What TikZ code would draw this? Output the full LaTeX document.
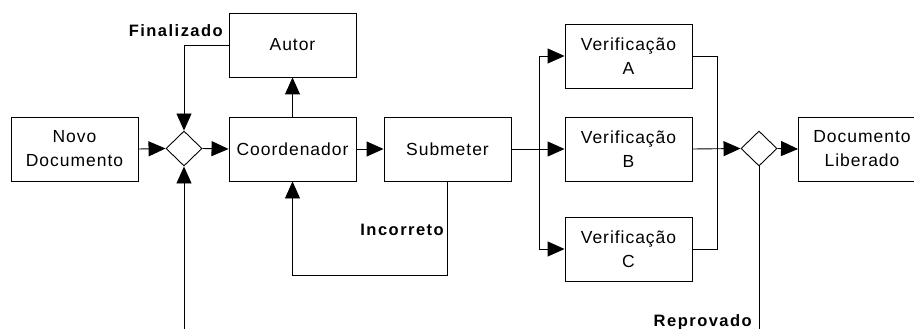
\documentclass[tikz,border=0pt]{standalone}
\usepackage{fontspec}
\setmainfont{Liberation Sans}
\usetikzlibrary{shapes.geometric,arrows.meta}
\newfontfamily\boxfont[LetterSpace=5.5]{Liberation Sans}
\newfontfamily\tagfont[LetterSpace=9]{Liberation Sans}
\tikzset{
  box/.style={draw,line width=0.9pt,minimum width=127pt,minimum height=64pt,inner sep=0pt,
    align=center,font=\boxfont\fontsize{17.5}{24}\selectfont},
  gate/.style={draw,shape=diamond,line width=0.9pt,minimum width=36pt,minimum height=35pt,inner sep=0pt},
  flow/.style={line width=0.9pt},
  arr/.style={flow,-{Triangle[length=17pt,width=15pt]}},
  tag/.style={font=\tagfont\fontsize{16.5}{18}\bfseries\selectfont,inner sep=0pt}}
\begin{document}
\begin{tikzpicture}[x=1pt,y=1pt]
\useasboundingbox (0,-329) rectangle (914,0);

% process steps
\node[box] (novo)  at (74.5,-149)  {Novo\\Documento};
\node[gate] (g1)   at (184,-148.5) {};
\node[box] (autor) at (292.5,-45)  {Autor};
\node[box] (coord) at (292.5,-149) {Coordenador};
\node[box] (sub)   at (447.5,-149) {Submeter};
\node[box] (va)    at (628.5,-56)  {Verificação\\A};
\node[box] (vb)    at (628.5,-149) {Verificação\\B};
\node[box] (vc)    at (628.5,-249) {Verificação\\C};
\node[gate] (g2)   at (759,-148.5) {};
\node[box] (lib)   at (862,-149)   {Documento\\Liberado};

% free ends of the loop lines
\coordinate (bot1) at (184,-329);
\coordinate (bot2) at (759,-329);
\coordinate (split) at (539,-149);
\coordinate (join) at (717,-149);

% main flow
\draw[arr] (novo.east) -- (g1.west);
\draw[arr] (g1.east) -- (coord.west);
\draw[arr] (coord.north) -- (autor.south);
\draw[arr] (coord.east) -- (sub.west);
\draw[arr] (autor.west) -| (g1.north);
\draw[arr] (bot1) -- (g1.south);
\draw[arr] (sub.south) -- ++(0,-94) -| (coord.south);

% parallel checks
\draw[flow] (sub.east) -- (split);
\draw[arr] (split) |- (va.west);
\draw[arr] (split) -- (vb.west);
\draw[arr] (split) |- (vc.west);
\draw[flow] (va.east) -| (join);
\draw[flow] (vc.east) -| (join);
\draw[arr] (vb.east) -- (g2.west);
\draw[arr] (g2.east) -- (lib.west);
\draw[flow] (g2.south) -- (bot2);

% branch labels
\node[tag,anchor=east] at (223,-31) {Finalizado};
\node[tag,anchor=east] at (444,-230) {Incorreto};
\node[tag,anchor=east] at (752,-322) {Reprovado};
\end{tikzpicture}
\end{document}
